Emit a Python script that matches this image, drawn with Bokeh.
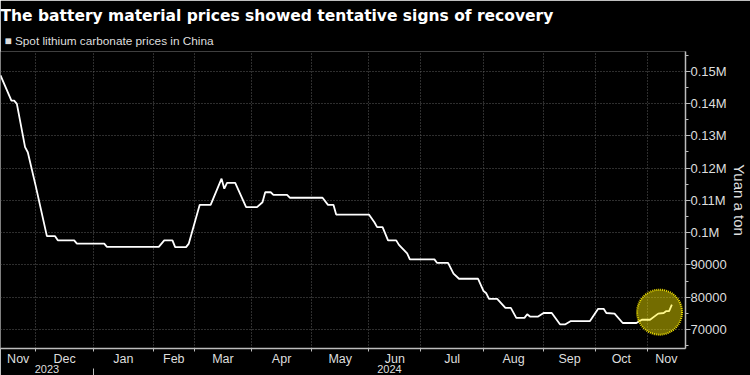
from bokeh.plotting import figure
from bokeh.models import Range1d, FixedTicker, LinearAxis, Title
from bokeh.embed import file_html
from bokeh.resources import INLINE

# ---------------- data ----------------
title_text = "The battery material prices showed tentative signs of recovery"
series_name = "Spot lithium carbonate prices in China"
y_axis_title = "Yuan a ton"

# trading-day index (from mid Nov 2023) and spot price, yuan a ton
day_index = [0, 4, 5, 6, 9, 10, 13, 17, 20, 21, 27, 28, 38, 39, 58, 60, 63, 64, 68, 69,
             73, 77, 81, 82, 83, 86, 90, 94, 96, 97, 99, 100, 105, 106, 118, 120, 122, 123,
             135, 137, 138, 140, 142, 145, 146, 149, 150, 159, 160, 164, 166, 168, 175, 177,
             178, 179, 182, 185, 187, 189, 192, 193, 194, 197, 199, 202, 205, 207, 209, 216,
             219, 221, 222, 225, 228, 233, 235, 238, 241, 243, 244, 245, 246]
price = [148700, 140900, 140900, 139900, 126500, 124900, 114100, 98900, 98900, 97600,
         97600, 96600, 96600, 95600, 95600, 97600, 97600, 95500, 95500, 96600,
         108600, 108600, 116700, 113600, 115400, 115400, 107900, 107900, 109400, 112500,
         112500, 111700, 111700, 110800, 110800, 108600, 108600, 105600,
         105600, 103200, 101700, 101700, 97600, 97600, 96200, 93600, 91700, 91700, 90600,
         90600, 87300, 85700, 85700, 81900,
         81200, 79500, 79500, 76700, 76700, 73600, 73600, 74700, 74000, 74000, 75100,
         75100, 71600, 71600, 72600, 72600,
         76400, 76400, 75100, 74900, 72000, 72000, 73000, 73000, 74900, 75100, 75700,
         75700, 77700]

month_start_index = [13, 34, 56, 71, 92, 114, 135, 154, 177, 199, 218, 237]
month_labels = ["Nov", "Dec", "Jan", "Feb", "Mar", "Apr", "May", "Jun", "Jul", "Aug",
                "Sep", "Oct", "Nov"]
first_index = 0
last_index = 251
year_labels = ["2023", "2024"]
year_start_index = [0, 34]

y_tick_values = [70000, 80000, 90000, 100000, 110000, 120000, 130000, 140000, 150000]
y_tick_labels = ["70000", "80000", "90000", "0.1M", "0.11M", "0.12M", "0.13M",
                 "0.14M", "0.15M"]
y_minor_values = [65000, 75000, 85000, 95000, 105000, 115000, 125000, 135000,
                  145000, 155000]
y_min, y_max = 64100, 156100

# ---------------- styling ----------------
BG = "#000000"
AXIS = "#bdbdbd"
GRID = "#5c5c5c"
TXT = "#dedede"
LAB_FONT = "Liberation Sans"

p = figure(width=750, height=375, output_backend="svg", toolbar_location=None,
           x_range=Range1d(first_index, last_index), y_range=Range1d(y_min, y_max),
           y_axis_location="right",
           min_border_left=0, min_border_right=0, min_border_top=51, min_border_bottom=27,
           background_fill_color=BG, border_fill_color=BG, outline_line_color=None)

# headline (outermost)
p.title.text = title_text
p.title.text_font = "DejaVu Sans"
p.title.text_font_size = "15.5px"
p.title.text_font_style = "bold"
p.title.text_color = "#ffffff"
p.title.align = "left"
p.title.offset = 0
p.title.standoff = 8

# series key, just above the plot
p.add_layout(Title(text="\u25a0 " + series_name, text_font=LAB_FONT,
                   text_font_size="11.8px", text_font_style="normal", text_color=TXT,
                   align="left", offset=4, standoff=7), "above")

# main line
p.line(day_index, price, line_color="#ffffff", line_width=1.8)

# highlight circle over the November rebound
hl_vals = [v for d, v in zip(day_index, price) if d >= month_start_index[-1]]
hl_x = (month_start_index[-1] + day_index[-1]) / 2
hl_y = (min(hl_vals) + max(hl_vals)) / 2
p.scatter([hl_x], [hl_y], marker="circle", size=45, fill_color="#fff000", fill_alpha=0.45,
          line_color="#f2e200", line_width=2, line_dash="1 1")

# x axis: month labels centred in month, ticks at month starts
bounds = [first_index] + month_start_index + [last_index]
mids = [(a + b) / 2 for a, b in zip(bounds[:-1], bounds[1:])]
xa = p.xaxis[0]
xa.ticker = FixedTicker(ticks=mids, minor_ticks=month_start_index)
xa.major_label_overrides = {m: lab for m, lab in zip(mids, month_labels)}
xa.major_tick_out = 0
xa.major_tick_in = 0
xa.minor_tick_out = 3
xa.minor_tick_in = 0
xa.minor_tick_line_color = AXIS
xa.axis_line_color = AXIS
xa.axis_line_width = 1.5
xa.major_label_standoff = 0
xa.major_label_text_font = LAB_FONT
xa.major_label_text_font_size = "12.5px"
xa.major_label_text_color = TXT

# year axis: labels centred in each year, separator tick at the year start
year_ends = year_start_index[1:] + [last_index]
year_mids = [(a + b) / 2 for a, b in zip(year_start_index, year_ends)]
xa2 = LinearAxis(ticker=FixedTicker(ticks=year_mids, minor_ticks=year_start_index[1:]))
xa2.axis_line_color = None
xa2.major_tick_out = 0
xa2.major_tick_in = 0
xa2.major_tick_line_color = None
xa2.minor_tick_out = 12
xa2.minor_tick_in = 0
xa2.minor_tick_line_color = AXIS
xa2.major_label_overrides = {m: lab for m, lab in zip(year_mids, year_labels)}
xa2.major_label_text_font = LAB_FONT
xa2.major_label_text_font_size = "11px"
xa2.major_label_text_color = TXT
xa2.major_label_standoff = -16
p.add_layout(xa2, "below")

# y axis on right
ya = p.yaxis[0]
ya.ticker = FixedTicker(ticks=y_tick_values, minor_ticks=y_minor_values)
ya.major_label_overrides = {v: lab for v, lab in zip(y_tick_values, y_tick_labels)}
ya.major_tick_out = 5
ya.major_tick_in = 0
ya.minor_tick_out = 3
ya.minor_tick_in = 0
ya.major_tick_line_color = AXIS
ya.minor_tick_line_color = AXIS
ya.axis_line_color = AXIS
ya.axis_line_width = 1.5
ya.major_label_standoff = 0
ya.major_label_text_font = LAB_FONT
ya.major_label_text_font_size = "13px"
ya.major_label_text_color = TXT
ya.axis_label = y_axis_title
ya.axis_label_text_font = LAB_FONT
ya.axis_label_text_font_size = "15px"
ya.axis_label_text_font_style = "normal"
ya.axis_label_text_color = TXT
ya.axis_label_standoff = 1

# grids (dotted)
p.ygrid.grid_line_color = GRID
p.ygrid.grid_line_dash = "1 2"
p.xgrid.grid_line_color = None
p.xgrid.minor_grid_line_color = GRID
p.xgrid.minor_grid_line_dash = "1 2"

open("out.html", "w").write(file_html(p, INLINE))
